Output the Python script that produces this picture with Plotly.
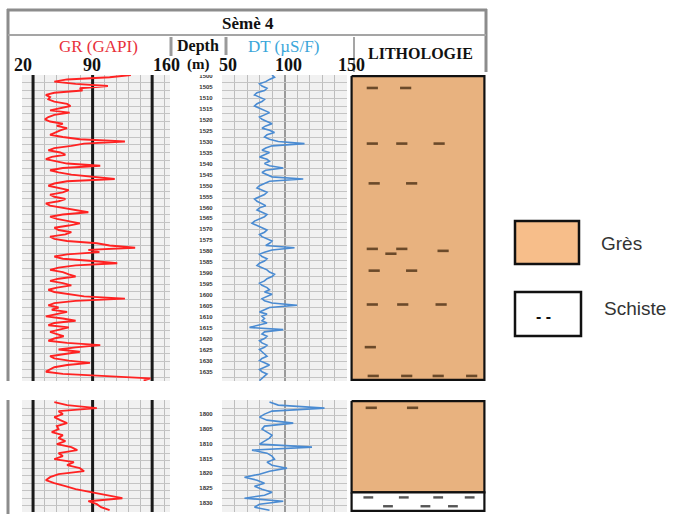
import plotly.graph_objects as go

W, H = 675, 518


def px(x):
    return x / W


def py(y):
    return 1 - y / H


# ---------------- data ----------------
upper_top, upper_bottom = 1500.0, 1638.2
lower_top, lower_bottom = 1795.3, 1832.6

upper_depth = list(range(1500, 1639))
gr_upper = [
    135, 110, 60, 45, 70, 108, 75, 78, 45, 35,
    40, 38, 45, 60, 64, 50, 40, 63, 45, 38,
    34, 40, 55, 48, 60, 52, 45, 40, 55, 75,
    128, 80, 65, 45, 38, 52, 58, 42, 35, 48,
    60, 99, 55, 40, 50, 65, 95, 116, 60, 45,
    38, 50, 62, 55, 40, 45, 58, 50, 35, 40,
    55, 75, 85, 55, 40, 48, 60, 75, 62, 45,
    50, 65, 58, 40, 45, 60, 95, 110, 140, 85,
    98, 60, 45, 55, 90, 119, 70, 50, 40, 55,
    62, 70, 50, 40, 55, 65, 48, 38, 45, 60,
    80, 128, 70, 45, 38, 50, 42, 60, 48, 35,
    55, 70, 45, 38, 62, 50, 40, 48, 56, 45,
    38, 60, 99, 70, 50, 75, 55, 40, 45, 62,
    87, 60, 45, 40, 35, 55, 100, 158, 150,
]
dt_upper = [
    90, 92, 88, 85, 80, 82, 86, 84, 78, 76,
    80, 84, 82, 78, 76, 80, 85, 88, 84, 80,
    82, 86, 90, 85, 82, 88, 92, 86, 84, 88,
    95, 116, 90, 85, 82, 88, 84, 80, 86, 88,
    84, 88, 99, 85, 82, 86, 90, 115, 88, 84,
    80, 78, 82, 86, 84, 80, 76, 78, 82, 85,
    80, 78, 82, 86, 84, 80, 76, 74, 78, 82,
    86, 84, 80, 82, 86, 90, 88, 85, 108, 90,
    84, 80, 82, 86, 84, 80, 78, 82, 86, 88,
    92, 90, 86, 84, 80, 82, 86, 88, 84, 90,
    86, 82, 84, 90, 110, 88, 84, 80, 86, 82,
    84, 82, 86, 80, 72, 99, 84, 82, 86, 84,
    80, 82, 86, 84, 80, 82, 84, 86, 82, 80,
    84, 88, 84, 80, 82, 86, 84, 82, 80,
]

lower_depth = list(range(1796, 1833))
gr_lower = [
    45, 60, 95, 50, 55, 45, 52, 60, 48, 50,
    42, 55, 50, 58, 48, 65, 72, 50, 55, 45,
    68, 60, 75, 80, 50, 40, 35, 45, 58, 70,
    88, 105, 125, 85, 95, 100, 110,
]
dt_lower = [
    88, 95, 132, 90, 84, 80, 86, 107, 84, 82,
    86, 90, 88, 84, 80, 122, 74, 86, 90, 92,
    86, 90, 102, 88, 80, 68, 78, 84, 76, 82,
    90, 84, 68, 99, 80, 76, 88,
]

gr_scale_ticks = [20, 90, 160]
dt_scale_ticks = [50, 100, 150]

depth_labels_upper = list(range(1500, 1640, 5))
depth_labels_lower = list(range(1800, 1835, 5))

lith_fill = {"Grès": "#E8B27F", "Schiste": "#FFFFFF"}
lith_upper = [("Grès", 1500.0, 1638.2)]
lith_lower = [("Grès", 1795.3, 1826.3), ("Schiste", 1826.3, 1832.6)]

sand_dash_depth_upper = [1505.4, 1505.4, 1530.7, 1530.7, 1530.7, 1548.8, 1548.8,
                         1578.6, 1580.8, 1578.6, 1579.5, 1588.5, 1588.5,
                         1603.9, 1603.9, 1603.9, 1623.3,
                         1636.4, 1636.4, 1636.4, 1636.4]
sand_dash_pos_upper = [0.156, 0.407, 0.156, 0.378, 0.659, 0.170, 0.452,
                       0.156, 0.296, 0.378, 0.689, 0.170, 0.452,
                       0.156, 0.385, 0.674, 0.141,
                       0.163, 0.415, 0.652, 0.904]
sand_dash_depth_lower = [1797.6, 1797.6]
sand_dash_pos_lower = [0.148, 0.459]
shale_dash_depth = [1828.0, 1828.0, 1828.0, 1828.0, 1831.0, 1831.0, 1831.0]
shale_dash_pos = [0.126, 0.393, 0.652, 0.889, 0.274, 0.556, 0.763]

GR_COLOR = "#FF2222"
DT_COLOR = "#4A8BD2"
SERIF = "Liberation Serif"

fig = go.Figure()


# ---------------- traces ----------------
def scale_lines(ticks, top, bot, xa, ya):
    xs, ys = [], []
    for v in ticks:
        xs += [v, v, None]
        ys += [top, bot, None]
    fig.add_trace(go.Scatter(x=xs, y=ys, mode="lines",
                             line=dict(color="#1A1A1A", width=3),
                             xaxis=xa, yaxis=ya, hoverinfo="skip"))


scale_lines(gr_scale_ticks, upper_top, upper_bottom, "x", "y")
scale_lines(gr_scale_ticks, lower_top, lower_bottom, "x5", "y2")

fig.add_trace(go.Scatter(x=gr_upper, y=upper_depth, mode="lines",
                         line=dict(color=GR_COLOR, width=1.9), xaxis="x", yaxis="y"))
fig.add_trace(go.Scatter(x=dt_upper, y=upper_depth, mode="lines",
                         line=dict(color=DT_COLOR, width=1.6), xaxis="x2", yaxis="y"))
fig.add_trace(go.Scatter(x=gr_lower, y=lower_depth, mode="lines",
                         line=dict(color=GR_COLOR, width=1.9), xaxis="x5", yaxis="y2"))
fig.add_trace(go.Scatter(x=dt_lower, y=lower_depth, mode="lines",
                         line=dict(color=DT_COLOR, width=1.6), xaxis="x6", yaxis="y2"))


def lith_traces(intervals, xa, ya):
    for name, top, bot in intervals:
        fig.add_trace(go.Scatter(
            x=[0, 1, 1, 0, 0], y=[top, top, bot, bot, top], mode="lines",
            fill="toself", fillcolor=lith_fill[name],
            line=dict(color="#111111", width=2.2), xaxis=xa, yaxis=ya))


lith_traces(lith_upper, "x3", "y3")
lith_traces(lith_lower, "x7", "y4")

dash_marker = dict(symbol="line-ew", size=8, line=dict(color="#6B4A2A", width=2.6))
fig.add_trace(go.Scatter(x=sand_dash_pos_upper, y=sand_dash_depth_upper, mode="markers",
                         marker=dash_marker, xaxis="x3", yaxis="y3"))
fig.add_trace(go.Scatter(x=sand_dash_pos_lower, y=sand_dash_depth_lower, mode="markers",
                         marker=dash_marker, xaxis="x7", yaxis="y4"))
fig.add_trace(go.Scatter(x=shale_dash_pos, y=shale_dash_depth, mode="markers",
                         marker=dict(symbol="line-ew", size=7, line=dict(color="#555555", width=2.4)),
                         xaxis="x7", yaxis="y4"))

# depth labels
for labels, xa, ya in [(depth_labels_upper, "x4", "y3"), (depth_labels_lower, "x8", "y4")]:
    fig.add_trace(go.Scatter(x=[0.5] * len(labels), y=labels, mode="text",
                             text=[f"<b>{d}</b>" for d in labels],
                             textfont=dict(size=6, color="#333333", family="Liberation Sans"),
                             xaxis=xa, yaxis=ya))

# ---------------- axes ----------------
hidden = dict(showticklabels=False, ticks="", zeroline=False, showline=False)

gr_axis = dict(range=[7, 181], tickmode="array", tickvals=gr_scale_ticks,
               showgrid=False,
               minor=dict(tickmode="linear", tick0=20, dtick=14, showgrid=True,
                          gridcolor="#BDBDBD", gridwidth=1, ticks=""),
               **hidden)
dt_axis = dict(range=[50, 150], tickmode="array", tickvals=dt_scale_ticks,
               showgrid=True, gridcolor="#9A9A9A", gridwidth=1.5,
               minor=dict(tickmode="linear", tick0=50, dtick=10, showgrid=True,
                          gridcolor="#BDBDBD", gridwidth=1, ticks=""),
               **hidden)
lith_axis = dict(range=[-0.012, 1.012], showgrid=False, **hidden)
depth_axis = dict(range=[0, 1], showgrid=False, **hidden)

dom_gr = [px(22), px(170)]
dom_dt = [px(222), px(347)]
dom_lith = [px(350), px(486)]
dom_depth = [px(190), px(222)]
dom_up = [py(381), py(75)]
dom_lo = [py(512), py(400)]

layout = dict(
    width=W, height=H, margin=dict(l=0, r=0, t=0, b=0),
    paper_bgcolor="white", plot_bgcolor="rgba(0,0,0,0)", showlegend=False,
    xaxis=dict(domain=dom_gr, anchor="y", **gr_axis),
    xaxis2=dict(domain=dom_dt, anchor="y", **dt_axis),
    xaxis3=dict(domain=dom_lith, anchor="y3", **lith_axis),
    xaxis4=dict(domain=dom_depth, anchor="y3", **depth_axis),
    xaxis5=dict(domain=dom_gr, anchor="y2", **gr_axis),
    xaxis6=dict(domain=dom_dt, anchor="y2", **dt_axis),
    xaxis7=dict(domain=dom_lith, anchor="y4", **lith_axis),
    xaxis8=dict(domain=dom_depth, anchor="y4", **depth_axis),
    yaxis=dict(domain=dom_up, anchor="x", range=[upper_bottom, upper_top],
               tickmode="linear", tick0=1500, dtick=3.5, showgrid=True,
               gridcolor="#C4C4C4", gridwidth=1, **hidden),
    yaxis2=dict(domain=dom_lo, anchor="x5", range=[lower_bottom, lower_top],
                tickmode="linear", tick0=1795.5, dtick=2.5, showgrid=True,
                gridcolor="#C4C4C4", gridwidth=1, **hidden),
    yaxis3=dict(domain=dom_up, anchor="x3", range=[upper_bottom + 0.5, upper_top - 0.5],
                showgrid=False, **hidden),
    yaxis4=dict(domain=dom_lo, anchor="x7", range=[lower_bottom + 0.35, lower_top - 0.35],
                showgrid=False, **hidden),
)
fig.update_layout(**layout)

shapes = []
# track backgrounds
for xa, ya in [("x", "y"), ("x2", "y"), ("x5", "y2"), ("x6", "y2")]:
    shapes.append(dict(type="rect", xref=f"{xa} domain", yref=f"{ya} domain",
                       x0=0, x1=1, y0=0, y1=1, fillcolor="#F1F1F1",
                       line=dict(width=0), layer="below"))


def pline(x0, y0, x1, y1, color="#8C8C8C", width=3):
    shapes.append(dict(type="line", xref="paper", yref="paper",
                       x0=px(x0), y0=py(y0), x1=px(x1), y1=py(y1),
                       line=dict(color=color, width=width)))


# frame of header
pline(7, 10, 487, 10)
pline(8, 9, 8, 381)
pline(8, 400, 8, 514)
pline(486, 9, 486, 72)
pline(8, 35, 486, 35, color="#A5A5A5", width=2)
pline(171, 37, 171, 56, color="#9A9A9A", width=3)
pline(226, 37, 226, 55, color="#9A9A9A", width=3)
pline(354, 37, 354, 72, color="#A5A5A5", width=2)

# legend boxes
shapes.append(dict(type="rect", xref="paper", yref="paper",
                   x0=px(515), x1=px(579), y0=py(264), y1=py(221),
                   fillcolor="#F7BE8A", line=dict(color="#111111", width=2.5)))
shapes.append(dict(type="rect", xref="paper", yref="paper",
                   x0=px(515), x1=px(581), y0=py(336), y1=py(292),
                   fillcolor="#FFFFFF", line=dict(color="#111111", width=2.5)))
fig.update_layout(shapes=shapes)


def ann(text, x, y, size, color="#111111", bold=False, family=SERIF, xanchor="center"):
    t = f"<b>{text}</b>" if bold else text
    return dict(text=t, x=px(x), y=py(y), xref="paper", yref="paper",
                xanchor=xanchor, yanchor="middle", showarrow=False, borderpad=0,
                font=dict(size=size, color=color, family=family))


annotations = [
    ann("Sèmè 4", 248, 23, 17, bold=True),
    ann("GR (GAPI)", 98, 46, 17, color="#E8303A"),
    ann("Depth", 198, 46, 16, bold=True),
    ann("(m)", 198, 65, 15, bold=True),
    ann("DT (µS/F)", 283, 46, 17, color="#3AA6DA"),
    ann("LITHOLOGIE", 421, 53, 16, bold=True),
    ann("20", 23, 65, 18, bold=True),
    ann("90", 92, 65, 18, bold=True),
    ann("160", 166, 65, 18, bold=True),
    ann("50", 228, 65, 18, bold=True),
    ann("100", 288, 65, 18, bold=True),
    ann("150", 351, 65, 18, bold=True),
    ann("Grès", 600, 244, 19, color="#333333", family="Liberation Sans", xanchor="left"),
    ann("Schiste", 603, 308, 19, color="#333333", family="Liberation Sans", xanchor="left"),
    ann("- -", 543, 316, 16, color="#111111", bold=True, family="Liberation Sans"),
]
fig.update_layout(annotations=annotations)

fig.write_html("out.html")
